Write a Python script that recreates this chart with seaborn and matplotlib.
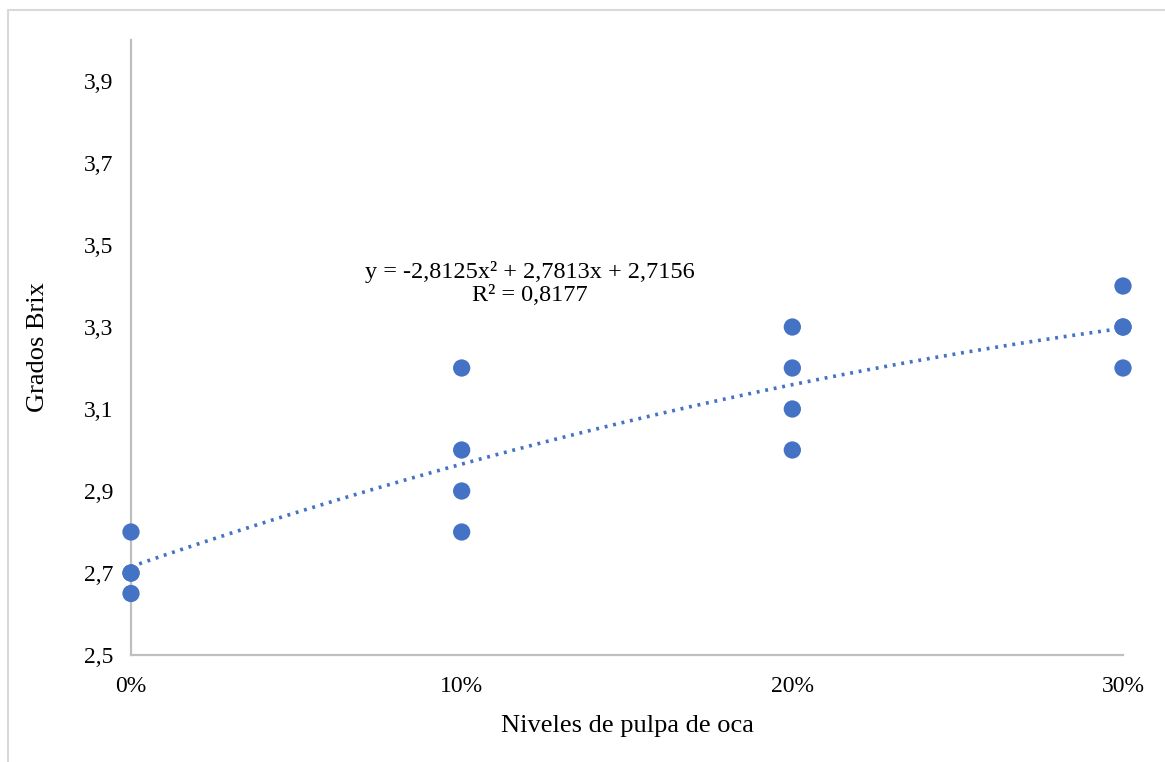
import numpy as np
import pandas as pd
import matplotlib
matplotlib.use("Agg")
import matplotlib.pyplot as plt
from matplotlib.ticker import FuncFormatter, FixedLocator
from matplotlib.lines import Line2D
import seaborn as sns

# Observations: pulp level (fraction) and measured degrees Brix
niveles = [0.0, 0.0, 0.0, 0.0,
           0.1, 0.1, 0.1, 0.1,
           0.2, 0.2, 0.2, 0.2,
           0.3, 0.3, 0.3, 0.3]
brix = [2.80, 2.70, 2.70, 2.65,
        3.20, 3.00, 2.90, 2.80,
        3.30, 3.20, 3.10, 3.00,
        3.40, 3.30, 3.30, 3.20]

# Polynomial trendline (order 2) as reported
coef_a = -2.8125
coef_b = 2.7813
coef_c = 2.7156
r2 = 0.8177

x_ticks = [0.0, 0.1, 0.2, 0.3]
y_ticks = [2.5, 2.7, 2.9, 3.1, 3.3, 3.5, 3.7, 3.9]

sns.set_theme(style="white")
plt.rcParams["font.family"] = ["Liberation Serif", "DejaVu Serif"]

blue = "#4472C4"
grey = "#BFBFBF"

fig = plt.figure(figsize=(11.65, 7.62), dpi=100)
ax = fig.add_axes([131 / 1165, 1 - 655 / 762, (1123 - 131) / 1165, (655 - 40) / 762])

df = pd.DataFrame({"nivel": niveles, "brix": brix})

# trend curve evaluated across the x range
xs = np.linspace(0.0, 0.3, 200)
trend = pd.DataFrame({"nivel": xs, "brix": coef_a * xs ** 2 + coef_b * xs + coef_c})
sns.lineplot(data=trend, x="nivel", y="brix", ax=ax, color=blue,
             linestyle=(0, (0.8, 1.6)), linewidth=2.6, zorder=2)

sns.scatterplot(data=df, x="nivel", y="brix", ax=ax, color=blue, s=155,
                edgecolor="none", zorder=3, clip_on=False)

ax.set_xlim(0.0, 0.3)
ax.set_ylim(2.5, 4.0)
ax.xaxis.set_major_locator(FixedLocator(x_ticks))
ax.yaxis.set_major_locator(FixedLocator(y_ticks))
ax.xaxis.set_major_formatter(FuncFormatter(lambda v, p: f"{v * 100:.0f}%"))
ax.yaxis.set_major_formatter(FuncFormatter(lambda v, p: f"{v:.1f}".replace(".", ",")))

for side in ("top", "right"):
    ax.spines[side].set_visible(False)
for side in ("left", "bottom"):
    ax.spines[side].set_color(grey)
    ax.spines[side].set_linewidth(1.6)
ax.tick_params(axis="both", which="major", length=6, width=1.4, color=grey,
               labelsize=17, labelcolor="black", direction="out", pad=7)
ax.tick_params(axis="x", pad=9)

ax.set_xlabel("Niveles de pulpa de oca", fontsize=19, color="black", labelpad=13)
ax.set_ylabel("Grados Brix", fontsize=19, color="black")
ax.yaxis.set_label_coords(-0.083, 0.5)

eq = (f"y = {coef_a:.4f}x² + {coef_b:.4f}x + {coef_c:.4f}".replace(".", ",")
      + "\n" + f"R² = {r2:.4f}".replace(".", ","))
ax.text(0.1207, 3.405, eq, ha="center", va="center", fontsize=17.5,
        color="black", linespacing=1.12)

# chart area frame
fig.add_artist(Line2D([8 / 1165, 8 / 1165], [0, 1 - 10 / 762],
                      transform=fig.transFigure, color="#D9D9D9", linewidth=1.5))
fig.add_artist(Line2D([8 / 1165, 1], [1 - 10 / 762, 1 - 10 / 762],
                      transform=fig.transFigure, color="#D9D9D9", linewidth=1.5))

fig.savefig("out.png", dpi=100)
